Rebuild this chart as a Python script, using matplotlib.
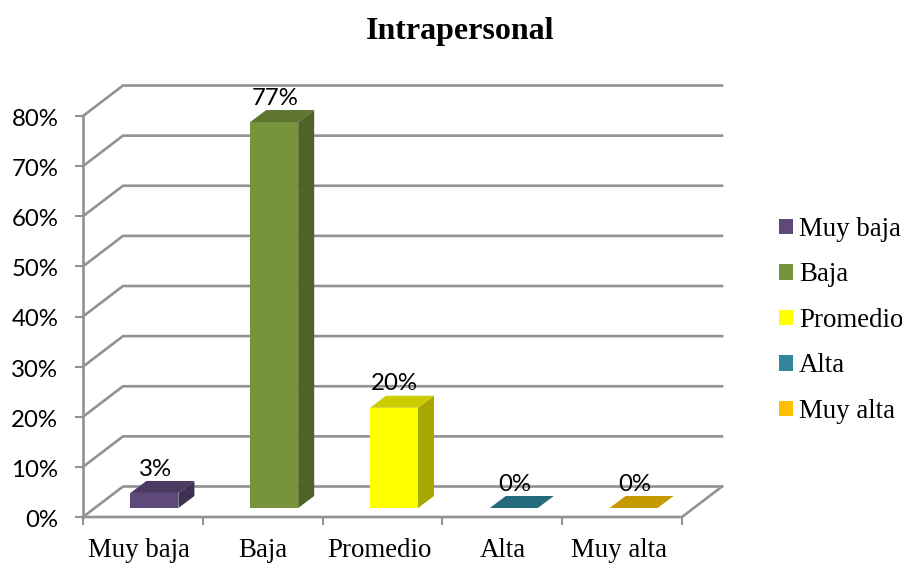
import matplotlib
matplotlib.use("Agg")
import matplotlib.pyplot as plt
from matplotlib.patches import Polygon, Patch
from matplotlib.transforms import ScaledTranslation

categories = ["Muy baja", "Baja", "Promedio", "Alta", "Muy alta"]
values = [3, 77, 20, 0, 0]
y_ticks = [0, 10, 20, 30, 40, 50, 60, 70, 80]
front_colors = ["#5F497A", "#77933C", "#FFFF00", "#31859C", "#FFC000"]
top_colors = ["#4C3A62", "#5F7630", "#CCCC00", "#266A7D", "#C49A00"]
side_colors = ["#3F3151", "#4F6228", "#A6A600", "#205866", "#A67F00"]
label_nudges = [-3.5, 0, -3.5, 0, -3]

W, H = 903, 563
L, R, T, B = 83, 682, 116, 517
GRID = "#929292"
SERIF = "Liberation Serif"
SANS = "Lato"

fig = plt.figure(figsize=(W / 100, H / 100), dpi=100)
ax = fig.add_axes([L / W, 1 - B / H, (R - L) / W, (B - T) / H])
ax.set_xlim(0, len(categories))
ax.set_ylim(0, 80)
for s in ax.spines.values():
    s.set_visible(False)

ux = len(categories) / (R - L)   # data units per pixel
uy = 80 / (B - T)

def wall(x, y):
    return x + 40 * ux, y + 30.5 * uy

# walls and floor
xmax = len(categories)
for v in y_ticks:
    x0, y0 = wall(0, v)
    x1, _ = wall(xmax, v)
    ax.plot([0, x0, x1], [v, y0, y0], color=GRID, lw=1.9, clip_on=False, zorder=1,
            solid_joinstyle="miter")
ax.plot([0, 0], [0, 80], color=GRID, lw=1.9, clip_on=False, zorder=1)
ax.plot([0, xmax, wall(xmax, 0)[0]], [0, 0, wall(xmax, 0)[1]], color=GRID, lw=1.9,
        clip_on=False, zorder=1, solid_joinstyle="miter")

# 3-D columns
bw = 48 * ux
dx, dy = 16 * ux, 12 * uy
fx, fy = 11.5 * ux, 9 * uy
for i, v in enumerate(values):
    x0 = i + 0.5 + fx - bw / 2
    x1 = x0 + bw
    y0 = fy
    y1 = fy + v
    if v > 0:
        ax.add_patch(Polygon([(x0, y0), (x1, y0), (x1, y1), (x0, y1)], closed=True,
                             fc=front_colors[i], ec="none", zorder=3, clip_on=False))
        ax.add_patch(Polygon([(x1, y0), (x1 + dx, y0 + dy), (x1 + dx, y1 + dy), (x1, y1)],
                             closed=True, fc=side_colors[i], ec="none", zorder=3, clip_on=False))
    ax.add_patch(Polygon([(x0, y1), (x1, y1), (x1 + dx, y1 + dy), (x0 + dx, y1 + dy)],
                         closed=True, fc=top_colors[i], ec="none", zorder=3, clip_on=False))
    ax.annotate(f"{v}%", (x0 + bw / 2, y1), xytext=(0.5, 23.8 * 0.72), textcoords="offset points",
                ha="center", va="center", fontsize=17.3, family=SANS, color="black",
                zorder=4, annotation_clip=False)

# axes ticks
ax.set_yticks(y_ticks)
ax.set_yticklabels([f"{v}%" for v in y_ticks], family=SANS, fontsize=17.3)
ax.tick_params(axis="y", length=5.8, width=1.5, color=GRID, pad=12)
down = ScaledTranslation(0, -1.5 / 100, fig.dpi_scale_trans)
for lab in ax.get_yticklabels():
    lab.set_transform(lab.get_transform() + down)
ax.set_xticks([i + 0.5 for i in range(len(categories))])
ax.set_xticklabels(categories, family=SERIF, fontsize=19.4)
ax.set_xticks(range(len(categories) + 1), minor=True)
ax.tick_params(axis="x", which="major", length=0, pad=15)
ax.tick_params(axis="x", which="minor", length=5.8, width=1.5, color=GRID)
for lab, nudge in zip(ax.get_xticklabels(), label_nudges):
    lab.set_transform(lab.get_transform() + ScaledTranslation(nudge / 100, 0, fig.dpi_scale_trans))

fig.text(460 / W, 1 - 32 / H, "Intrapersonal", ha="center", va="center",
         family=SERIF, fontsize=23, fontweight="bold")

handles = [Patch(fc=c, ec="none") for c in front_colors]
fig.legend(handles, categories, loc="upper left", bbox_to_anchor=(779 / W, 1 - 217 / H),
           frameon=False, prop={"family": SERIF, "size": 19.4}, borderpad=0, borderaxespad=0,
           handlelength=0.52, handleheight=0.52, handletextpad=0.22, labelspacing=0.76)

fig.savefig("out.png", dpi=100)
